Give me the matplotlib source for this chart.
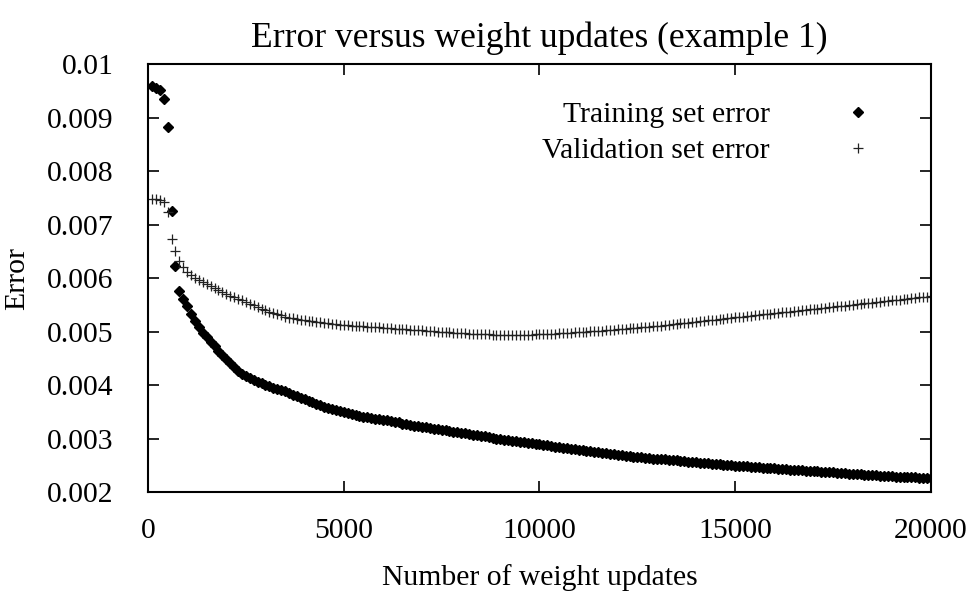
#!/usr/bin/env python3
"""
Error versus weight updates (example 1)
Training and validation error, sampled every 100 weight updates
"""

import numpy as np
import matplotlib
matplotlib.use('Agg')
import matplotlib.pyplot as plt
from matplotlib.ticker import FuncFormatter

plt.rcParams['font.family'] = ['Liberation Serif', 'DejaVu Serif']
plt.rcParams['font.size'] = 21.3

# one sample every 100 weight updates
updates = np.arange(100, 20001, 100)

# errors in units of 1e-3
train_milli = [
    9.58, 9.55, 9.51, 9.35, 8.82, 7.26, 6.22, 5.76, 5.60, 5.47,
    5.32, 5.19, 5.08, 4.98, 4.89, 4.80, 4.72, 4.64, 4.56, 4.48,
    4.41, 4.34, 4.27, 4.21, 4.17, 4.13, 4.09, 4.06, 4.03, 4.00,
    3.98, 3.95, 3.93, 3.91, 3.88, 3.85, 3.82, 3.79, 3.76, 3.74,
    3.71, 3.68, 3.65, 3.62, 3.59, 3.57, 3.55, 3.53, 3.51, 3.50,
    3.48, 3.46, 3.44, 3.43, 3.41, 3.40, 3.38, 3.37, 3.36, 3.35,
    3.34, 3.32, 3.31, 3.30, 3.28, 3.27, 3.26, 3.24, 3.23, 3.22,
    3.21, 3.19, 3.18, 3.17, 3.16, 3.15, 3.14, 3.13, 3.12, 3.11,
    3.10, 3.09, 3.07, 3.06, 3.05, 3.04, 3.03, 3.01, 3.00, 2.99,
    2.98, 2.97, 2.96, 2.95, 2.94, 2.93, 2.92, 2.91, 2.90, 2.89,
    2.88, 2.87, 2.86, 2.85, 2.84, 2.83, 2.82, 2.81, 2.80, 2.79,
    2.78, 2.77, 2.76, 2.75, 2.74, 2.73, 2.72, 2.71, 2.705, 2.70,
    2.69, 2.68, 2.67, 2.66, 2.655, 2.65, 2.64, 2.63, 2.625, 2.62,
    2.615, 2.61, 2.60, 2.595, 2.59, 2.58, 2.575, 2.57, 2.56, 2.555,
    2.55, 2.545, 2.54, 2.53, 2.525, 2.52, 2.51, 2.505, 2.50, 2.495,
    2.49, 2.485, 2.48, 2.47, 2.465, 2.46, 2.455, 2.45, 2.445, 2.44,
    2.435, 2.43, 2.425, 2.42, 2.415, 2.41, 2.405, 2.40, 2.395, 2.39,
    2.385, 2.38, 2.375, 2.37, 2.365, 2.36, 2.355, 2.35, 2.345, 2.34,
    2.335, 2.33, 2.325, 2.32, 2.315, 2.31, 2.305, 2.30, 2.295, 2.29,
    2.287, 2.284, 2.281, 2.278, 2.275, 2.272, 2.269, 2.266, 2.263, 2.26,
]

valid_milli = [
    7.48, 7.47, 7.46, 7.42, 7.23, 6.73, 6.50, 6.31, 6.21, 6.12,
    6.05, 6.00, 5.96, 5.92, 5.88, 5.85, 5.81, 5.77, 5.74, 5.70,
    5.67, 5.64, 5.61, 5.58, 5.55, 5.52, 5.49, 5.46, 5.43, 5.40,
    5.37, 5.35, 5.32, 5.30, 5.28, 5.26, 5.25, 5.23, 5.22, 5.21,
    5.20, 5.19, 5.18, 5.17, 5.16, 5.15, 5.14, 5.135, 5.13, 5.12,
    5.115, 5.11, 5.105, 5.10, 5.095, 5.09, 5.085, 5.08, 5.075, 5.07,
    5.065, 5.06, 5.055, 5.05, 5.045, 5.04, 5.035, 5.03, 5.025, 5.02,
    5.015, 5.01, 5.005, 5.00, 4.995, 4.99, 4.985, 4.98, 4.975, 4.97,
    4.966, 4.962, 4.958, 4.955, 4.952, 4.949, 4.946, 4.944, 4.942, 4.94,
    4.94, 4.94, 4.94, 4.94, 4.94, 4.941, 4.942, 4.944, 4.946, 4.948,
    4.95, 4.953, 4.956, 4.96, 4.964, 4.968, 4.972, 4.977, 4.982, 4.987,
    4.992, 4.997, 5.002, 5.007, 5.012, 5.018, 5.024, 5.030, 5.036, 5.042,
    5.048, 5.054, 5.060, 5.066, 5.072, 5.078, 5.084, 5.090, 5.096, 5.102,
    5.110, 5.118, 5.126, 5.134, 5.142, 5.150, 5.158, 5.166, 5.174, 5.182,
    5.190, 5.198, 5.206, 5.214, 5.222, 5.230, 5.238, 5.246, 5.254, 5.262,
    5.270, 5.278, 5.286, 5.294, 5.302, 5.310, 5.318, 5.326, 5.334, 5.342,
    5.350, 5.358, 5.366, 5.374, 5.382, 5.390, 5.398, 5.406, 5.414, 5.422,
    5.430, 5.438, 5.446, 5.454, 5.462, 5.470, 5.478, 5.486, 5.494, 5.502,
    5.510, 5.518, 5.526, 5.534, 5.542, 5.550, 5.558, 5.566, 5.574, 5.582,
    5.590, 5.598, 5.606, 5.614, 5.622, 5.630, 5.638, 5.646, 5.654, 5.662,
]

train_err = np.array(train_milli) * 1e-3
valid_err = np.array(valid_milli) * 1e-3

x_ticks = [0, 5000, 10000, 15000, 20000]
y_ticks = [0.002, 0.003, 0.004, 0.005, 0.006, 0.007, 0.008, 0.009, 0.01]

fig = plt.figure(figsize=(9.77, 5.95), dpi=100)
ax = fig.add_axes([0.1515, 0.1731, 0.8014, 0.7193])

ax.plot(updates, train_err, linestyle='none', marker='D', markersize=5.0,
        color='black', label='Training set error')
ax.plot(updates, valid_err, linestyle='none', marker='+', markersize=6.5,
        markeredgewidth=0.9, color='#222222', label='Validation set error')

ax.set_xlim(0, 20000)
ax.set_ylim(0.002, 0.01)
ax.set_xticks(x_ticks)
ax.set_yticks(y_ticks)
ax.yaxis.set_major_formatter(FuncFormatter(lambda v, p: f'{v:g}'))
ax.tick_params(direction='in', top=True, right=True, length=8, width=1.2)
ax.tick_params(axis='y', pad=25)
ax.tick_params(axis='x', pad=19)
for s in ax.spines.values():
    s.set_linewidth(1.5)

ax.set_title('Error versus weight updates (example 1)', pad=12)
ax.set_xlabel('Number of weight updates', labelpad=14)
ax.set_ylabel('Error', labelpad=12)

ax.legend(loc='upper right', bbox_to_anchor=(0.9885, 0.912), frameon=False,
          markerfirst=False, handlelength=4.35, handletextpad=0.8,
          labelspacing=0.3, borderpad=0, borderaxespad=0, numpoints=1)

fig.savefig('out.png', dpi=100)
plt.close()
